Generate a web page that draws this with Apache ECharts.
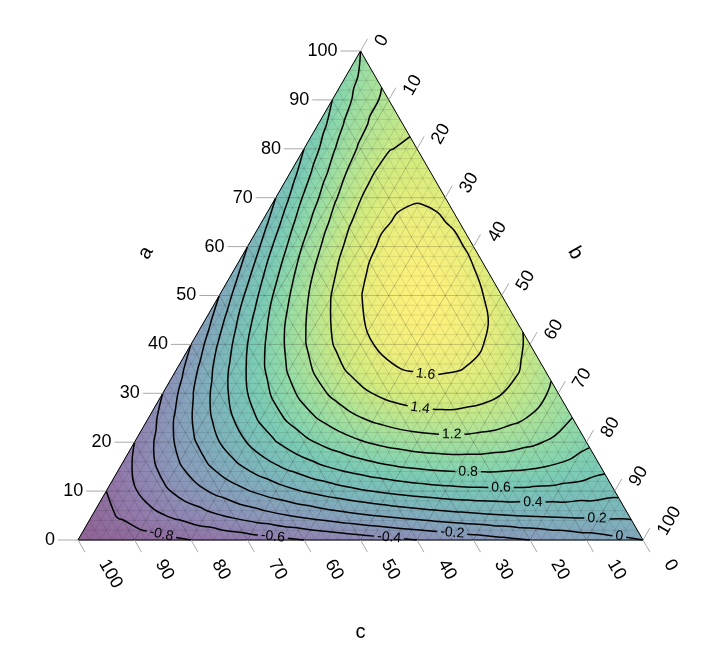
<!DOCTYPE html>
<html><head><meta charset="utf-8">
<script src="https://cdn.jsdelivr.net/npm/echarts@6/dist/echarts.min.js"></script>
<style>html,body{margin:0;padding:0;background:#fff}#chart{width:726px;height:652px}</style>
</head><body><div id="chart"></div>
<script>
// ---------------- data ----------------
const tickValues = [0, 10, 20, 30, 40, 50, 60, 70, 80, 90, 100];
const axisTitles = ['a', 'b', 'c'];
const gridStepPct = 5;           // spacing of the value grid (percent)
// value field: one row per a = 0,5,...,100 ; entries for b = 0,5,...,100-a
const row_a000 = [-1, -0.95, -0.9, -0.85, -0.8, -0.75, -0.7, -0.65, -0.6, -0.55, -0.5, -0.45, -0.4, -0.35, -0.3, -0.25, -0.2, -0.15, -0.1, -0.05, 0];
const row_a005 = [-0.9, -0.779, -0.665, -0.558, -0.458, -0.364, -0.277, -0.197, -0.123, -0.056, 0.004, 0.057, 0.104, 0.143, 0.176, 0.203, 0.222, 0.235, 0.241, 0.24];
const row_a010 = [-0.8, -0.615, -0.444, -0.286, -0.142, -0.011, 0.106, 0.210, 0.300, 0.377, 0.440, 0.490, 0.526, 0.549, 0.558, 0.554, 0.536, 0.505, 0.46];
const row_a015 = [-0.7, -0.458, -0.236, -0.035, 0.147, 0.308, 0.448, 0.569, 0.669, 0.749, 0.809, 0.848, 0.868, 0.867, 0.845, 0.804, 0.742, 0.66];
const row_a020 = [-0.6, -0.308, -0.042, 0.197, 0.408, 0.593, 0.75, 0.881, 0.984, 1.061, 1.11, 1.133, 1.128, 1.097, 1.038, 0.953, 0.84];
const row_a025 = [-0.5, -0.164, 0.139, 0.408, 0.643, 0.844, 1.011, 1.145, 1.245, 1.311, 1.344, 1.343, 1.308, 1.239, 1.136, 1.0];
const row_a030 = [-0.4, -0.027, 0.306, 0.598, 0.85, 1.061, 1.232, 1.362, 1.452, 1.501, 1.51, 1.478, 1.406, 1.293, 1.14];
const row_a035 = [-0.3, 0.104, 0.460, 0.769, 1.031, 1.245, 1.412, 1.532, 1.605, 1.631, 1.609, 1.540, 1.424, 1.26];
const row_a040 = [-0.2, 0.227, 0.6, 0.919, 1.184, 1.395, 1.552, 1.655, 1.704, 1.699, 1.64, 1.527, 1.36];
const row_a045 = [-0.1, 0.344, 0.727, 1.049, 1.311, 1.511, 1.651, 1.731, 1.749, 1.707, 1.604, 1.44];
const row_a050 = [0, 0.454, 0.84, 1.159, 1.41, 1.594, 1.71, 1.759, 1.74, 1.654, 1.5];
const row_a055 = [0.1, 0.557, 0.940, 1.248, 1.483, 1.643, 1.728, 1.740, 1.677, 1.54];
const row_a060 = [0.2, 0.654, 1.026, 1.318, 1.528, 1.658, 1.706, 1.674, 1.56];
const row_a065 = [0.3, 0.743, 1.099, 1.367, 1.547, 1.639, 1.643, 1.56];
const row_a070 = [0.4, 0.826, 1.158, 1.395, 1.538, 1.586, 1.54];
const row_a075 = [0.5, 0.903, 1.204, 1.404, 1.503, 1.5];
const row_a080 = [0.6, 0.972, 1.236, 1.392, 1.44];
const row_a085 = [0.7, 1.035, 1.255, 1.36];
const row_a090 = [0.8, 1.091, 1.26];
const row_a095 = [0.9, 1.14];
const row_a100 = [1];
const fieldRows = [row_a000, row_a005, row_a010, row_a015, row_a020, row_a025, row_a030, row_a035, row_a040, row_a045,
  row_a050, row_a055, row_a060, row_a065, row_a070, row_a075, row_a080, row_a085, row_a090, row_a095, row_a100];
const contourLevels = [-0.8, -0.6, -0.4, -0.2, 0, 0.2, 0.4, 0.6, 0.8, 1, 1.2, 1.4, 1.6];
const contourLabelText = ['-0.8', '-0.6', '-0.4', '-0.2', '0', '0.2', '0.4', '0.6', '0.8', '1', '1.2', '1.4', '1.6'];

// ---------------- layout / style ----------------
const labelSpots = { // where each contour label sits (ternary a,b in %)
  '-0.8': [0.4, 14.3], '-0.6': [0.3, 34.3], '-0.4': [0.3, 54.9], '-0.2': [1.0, 65.7], '0': [0.3, 95.6],
  '0.2': [4.1, 89.8], '0.4': [7.4, 76.8], '0.6': [10.2, 69.8], '0.8': [13.7, 62.2],
  '1.2': [21.1, 55.6], '1.4': [26.6, 47.2], '1.6': [33.5, 44.7]
};
const FONT = 'Liberation Sans, Arial, sans-serif';
const style = {
  aTickLen: 20, tickLen: 14, aLabelGap: 23, bLabelOff: [19, -6], cLabelOff: [25, 21], titleDist: 85, cTitleDist: 92,
  tickFont: 18, titleFont: 20, contourFont: 14,
  colorMin: -0.95, colorMax: 1.76, alpha: 0.6,
  minorGrid: 'rgba(0,0,0,0.10)', majorGrid: 'rgba(0,0,0,0.2)', tickColor: '#A9A9A9'
};
const VIR = ['#440154', '#482475', '#414487', '#355F8D', '#2A788E', '#21918C', '#22A884', '#44BF70', '#7AD151', '#BDDF26', '#FDE725'];

// ---------------- helpers ----------------
const SQ = Math.sqrt(3) / 2;
function tern2xy(a, b) { return [(b + a / 2) / 100, a * SQ / 100]; }
function hex2rgb(h) { return [1, 3, 5].map(k => parseInt(h.substr(k, 2), 16)); }
const VIRRGB = VIR.map(hex2rgb);
function colorFor(v) {
  let t = (v - style.colorMin) / (style.colorMax - style.colorMin);
  t = Math.max(0, Math.min(1, t));
  const p = t * (VIRRGB.length - 1);
  const k = Math.min(VIRRGB.length - 2, Math.floor(p));
  const f = p - k;
  const c = VIRRGB[k].map((x, n) => x + (VIRRGB[k + 1][n] - x) * f);
  const bl = c.map(x => Math.round(style.alpha * x + (1 - style.alpha) * 255));
  return 'rgb(' + bl.join(',') + ')';
}

const STEP = gridStepPct;
const NN = Math.round(100 / STEP);
const tris = [];
for (let i = 0; i < NN; i++) for (let j = 0; j < NN - i; j++) {
  tris.push([[i, j], [i, j + 1], [i + 1, j]]);
  if (i + j <= NN - 2) tris.push([[i, j + 1], [i + 1, j], [i + 1, j + 1]]);
}
const nodeVal = ([i, j]) => fieldRows[i][j];

// marching triangles -> polylines (ternary a,b %)
function contourLines(level) {
  const segs = [];
  for (const t of tris) {
    const v = t.map(n => { const d = nodeVal(n) - level; return d === 0 ? 1e-9 : d; });
    const pts = [];
    for (let e = 0; e < 3; e++) {
      const p = e, q = (e + 1) % 3;
      if ((v[p] > 0) !== (v[q] > 0)) {
        const f = v[p] / (v[p] - v[q]);
        const np = t[p], nq = t[q];
        const key = [np.join('_'), nq.join('_')].sort().join('|');
        pts.push({ key, a: (np[0] + f * (nq[0] - np[0])) * STEP, b: (np[1] + f * (nq[1] - np[1])) * STEP });
      }
    }
    if (pts.length === 2) segs.push(pts);
  }
  const byKey = new Map();
  segs.forEach((s, k) => s.forEach(p => { if (!byKey.has(p.key)) byKey.set(p.key, []); byKey.get(p.key).push(k); }));
  const used = new Array(segs.length).fill(false);
  const lines = [];
  function nextSeg(key) { const l = byKey.get(key) || []; for (const m of l) if (!used[m]) return m; return -1; }
  for (let k = 0; k < segs.length; k++) {
    if (used[k]) continue;
    used[k] = true;
    const line = [segs[k][0], segs[k][1]];
    for (;;) { const cur = line[line.length - 1].key; const m = nextSeg(cur); if (m < 0) break; used[m] = true; line.push(segs[m][0].key === cur ? segs[m][1] : segs[m][0]); }
    for (;;) { const cur = line[0].key; const m = nextSeg(cur); if (m < 0) break; used[m] = true; line.unshift(segs[m][0].key === cur ? segs[m][1] : segs[m][0]); }
    lines.push(line.map(p => [p.a, p.b]));
  }
  return lines;
}
const contourSet = contourLevels.map((L, k) => ({ level: L, text: contourLabelText[k], lines: contourLines(L) }));

// polyline utilities (pixel space)
function dedupe(pts) { const o = [pts[0]]; for (let i = 1; i < pts.length; i++) { const q = o[o.length - 1]; if (Math.hypot(pts[i][0] - q[0], pts[i][1] - q[1]) > 3 || i === pts.length - 1) o.push(pts[i]); } return o; }
function cum(pts) { const c = [0]; for (let i = 1; i < pts.length; i++) c.push(c[i - 1] + Math.hypot(pts[i][0] - pts[i - 1][0], pts[i][1] - pts[i - 1][1])); return c; }
function at(pts, c, s) {
  for (let i = 1; i < pts.length; i++) if (c[i] >= s) { const f = (s - c[i - 1]) / ((c[i] - c[i - 1]) || 1); return [pts[i - 1][0] + f * (pts[i][0] - pts[i - 1][0]), pts[i - 1][1] + f * (pts[i][1] - pts[i - 1][1])]; }
  return pts[pts.length - 1].slice();
}
function sub(pts, c, s1, s2) {
  const out = [at(pts, c, s1)];
  for (let i = 0; i < pts.length; i++) if (c[i] > s1 && c[i] < s2) out.push(pts[i]);
  out.push(at(pts, c, s2));
  return out;
}
const measureCtx = document.createElement('canvas').getContext('2d');
function textW(t, fs) { measureCtx.font = fs + 'px ' + FONT; return measureCtx.measureText(t).width; }

// ---------------- chart ----------------
const chart = echarts.init(document.getElementById('chart'), null, { renderer: 'canvas' });

function fillItem(params, api) {
  const t = tris[params.dataIndex];
  const P = t.map(n => api.coord(tern2xy(n[0] * STEP, n[1] * STEP)));
  const V = t.map(nodeVal);
  const [x0, y0] = P[0];
  const dx1 = P[1][0] - x0, dy1 = P[1][1] - y0, dv1 = V[1] - V[0];
  const dx2 = P[2][0] - x0, dy2 = P[2][1] - y0, dv2 = V[2] - V[0];
  const det = dx1 * dy2 - dx2 * dy1;
  const gx = (dv1 * dy2 - dv2 * dy1) / det, gy = (dx1 * dv2 - dx2 * dv1) / det;
  const g = Math.hypot(gx, gy);
  let fill;
  const vmin = Math.min(...V), vmax = Math.max(...V);
  if (g < 1e-9 || vmax - vmin < 1e-6) fill = colorFor((V[0] + V[1] + V[2]) / 3);
  else {
    const km = V.indexOf(vmin);
    const ux = gx / g, uy = gy / g, len = (vmax - vmin) / g;
    const S = P[km];
    const stops = [];
    for (let n = 0; n <= 4; n++) stops.push({ offset: n / 4, color: colorFor(vmin + (vmax - vmin) * n / 4) });
    fill = { type: 'linear', x: S[0], y: S[1], x2: S[0] + ux * len, y2: S[1] + uy * len, colorStops: stops, global: true };
  }
  return { type: 'polygon', shape: { points: P }, style: { fill: fill, stroke: fill, lineWidth: 0.8 } };
}

function gridItem(params, api) {
  const ch = [];
  const line = (p, q, col) => ch.push({ type: 'line', shape: { x1: p[0], y1: p[1], x2: q[0], y2: q[1] }, style: { stroke: col, lineWidth: 1 } });
  const draw = (k, col) => {
    line(api.coord(tern2xy(k, 0)), api.coord(tern2xy(k, 100 - k)), col);          // a = k
    line(api.coord(tern2xy(0, k)), api.coord(tern2xy(100 - k, k)), col);          // b = k
    line(api.coord(tern2xy(0, 100 - k)), api.coord(tern2xy(100 - k, 0)), col);    // c = k
  };
  for (let k = 2; k < 100; k += 2) if (k % 10) draw(k, style.minorGrid);
  for (let k = 10; k < 100; k += 10) draw(k, style.majorGrid);
  return { type: 'group', children: ch };
}

function contourItem(params, api) {
  const ch = [];
  for (const cs of contourSet) {
    const plines = cs.lines.map(l => dedupe(l.map(p => api.coord(tern2xy(p[0], p[1])))));
    const spot = labelSpots[cs.text];
    let pieces = plines.map(p => p);
    if (spot) {
      const A = api.coord(tern2xy(spot[0], spot[1]));
      let best = null;
      plines.forEach((pl, li) => {
        const c = cum(pl);
        for (let i = 1; i < pl.length; i++) {
          const ax = pl[i - 1][0], ay = pl[i - 1][1], bx = pl[i][0], by = pl[i][1];
          const L2 = (bx - ax) ** 2 + (by - ay) ** 2 || 1;
          let t = ((A[0] - ax) * (bx - ax) + (A[1] - ay) * (by - ay)) / L2;
          t = Math.max(0, Math.min(1, t));
          const px = ax + t * (bx - ax), py = ay + t * (by - ay);
          const d = Math.hypot(px - A[0], py - A[1]);
          if (!best || d < best.d) best = { d, li, s: c[i - 1] + t * (c[i] - c[i - 1]), pt: [px, py] };
        }
      });
      if (best) {
        const pl = plines[best.li], c = cum(pl), L = c[c.length - 1];
        const w = textW(cs.text, style.contourFont);
        const r = w / 2 + 3;
        const closed = Math.hypot(pl[0][0] - pl[pl.length - 1][0], pl[0][1] - pl[pl.length - 1][1]) < 0.5;
        const s1 = best.s - r, s2 = best.s + r;
        const p1 = at(pl, c, Math.max(0, s1)), p2 = at(pl, c, Math.min(L, s2));
        let ang = Math.atan2(-(p2[1] - p1[1]), p2[0] - p1[0]);
        if (ang > Math.PI / 2) ang -= Math.PI; if (ang < -Math.PI / 2) ang += Math.PI;
        const newPieces = [];
        if (closed && s1 > 0 && s2 < L) newPieces.push(sub(pl, c, s2, L).concat(sub(pl, c, 0, s1).slice(1)));
        else {
          if (s1 > 0) newPieces.push(sub(pl, c, 0, s1));
          if (s2 < L) newPieces.push(sub(pl, c, s2, L));
        }
        pieces = plines.filter((_, k) => k !== best.li).concat(newPieces);
        const mid = at(pl, c, best.s);
        ch.push({ type: 'text', x: mid[0], y: mid[1], rotation: ang, z2: 5,
          style: { text: cs.text, fontSize: style.contourFont, fontFamily: FONT, fill: '#000', align: 'center', verticalAlign: 'middle' } });
      }
    }
    for (const p of pieces) if (p.length > 1)
      ch.push({ type: 'polyline', shape: { points: p, smooth: 0.4 }, style: { stroke: '#000', lineWidth: 1.5, fill: null } });
  }
  return { type: 'group', children: ch };
}

function axesItem(params, api) {
  const ch = [];
  const P = (a, b) => api.coord(tern2xy(a, b));
  const top = P(100, 0), bl = P(0, 0), br = P(0, 100);
  ch.push({ type: 'polygon', shape: { points: [top, br, bl] }, style: { fill: null, stroke: '#000', lineWidth: 1 } });
  const txt = (x, y, t, rot, align, fs) => ch.push({ type: 'text', x, y, rotation: rot,
    style: { text: t, fontSize: fs, fontFamily: FONT, fill: '#000', align: align, verticalAlign: 'middle' } });
  const tick = (p, d, TL) => ch.push({ type: 'line', shape: { x1: p[0], y1: p[1], x2: p[0] + d[0] * TL, y2: p[1] + d[1] * TL }, style: { stroke: style.tickColor, lineWidth: 1 } });
  for (const v of tickValues) {
    const pa = P(v, 0);                 // a axis (left edge)
    tick(pa, [-1, 0], style.aTickLen);
    txt(pa[0] - style.aLabelGap, pa[1], String(v), 0, 'right', style.tickFont);
    const pb = P(100 - v, v);           // b axis (right edge)
    tick(pb, [0.5, -SQ], style.tickLen);
    txt(pb[0] + style.bLabelOff[0], pb[1] + style.bLabelOff[1], String(v), Math.PI / 3, 'left', style.tickFont);
    const pc = P(0, 100 - v);           // c axis (bottom edge)
    tick(pc, [0.5, SQ], style.tickLen);
    txt(pc[0] + style.cLabelOff[0], pc[1] + style.cLabelOff[1], String(v), -Math.PI / 3, 'left', style.tickFont);
  }
  const D = style.titleDist;
  const ma = P(50, 0), mb = P(50, 50), mc = P(0, 50);
  txt(ma[0] - SQ * D, ma[1] - 0.5 * D, axisTitles[0], Math.PI / 3, 'center', style.titleFont);
  txt(mb[0] + SQ * D, mb[1] - 0.5 * D, axisTitles[1], -Math.PI / 3, 'center', style.titleFont);
  txt(mc[0], mc[1] + style.cTitleDist, axisTitles[2], 0, 'center', style.titleFont);
  return { type: 'group', children: ch };
}

chart.setOption({
  animation: false,
  backgroundColor: '#fff',
  grid: { left: 78, top: 51, width: 565, height: 489 },
  xAxis: { type: 'value', min: 0, max: 1, show: false },
  yAxis: { type: 'value', min: 0, max: SQ, show: false },
  series: [
    { type: 'custom', name: 'fill', z: 1, silent: true, renderItem: fillItem,
      data: tris.map(t => { const c = t.map(n => tern2xy(n[0] * STEP, n[1] * STEP)); return [(c[0][0] + c[1][0] + c[2][0]) / 3, (c[0][1] + c[1][1] + c[2][1]) / 3]; }) },
    { type: 'custom', name: 'grid', z: 2, silent: true, renderItem: gridItem, data: [[0.5, 0.3]] },
    { type: 'custom', name: 'contours', z: 3, silent: true, renderItem: contourItem, data: [[0.5, 0.3]] },
    { type: 'custom', name: 'axes', z: 4, silent: true, renderItem: axesItem, data: [[0.5, 0.3]] }
  ]
});
</script></body></html>
